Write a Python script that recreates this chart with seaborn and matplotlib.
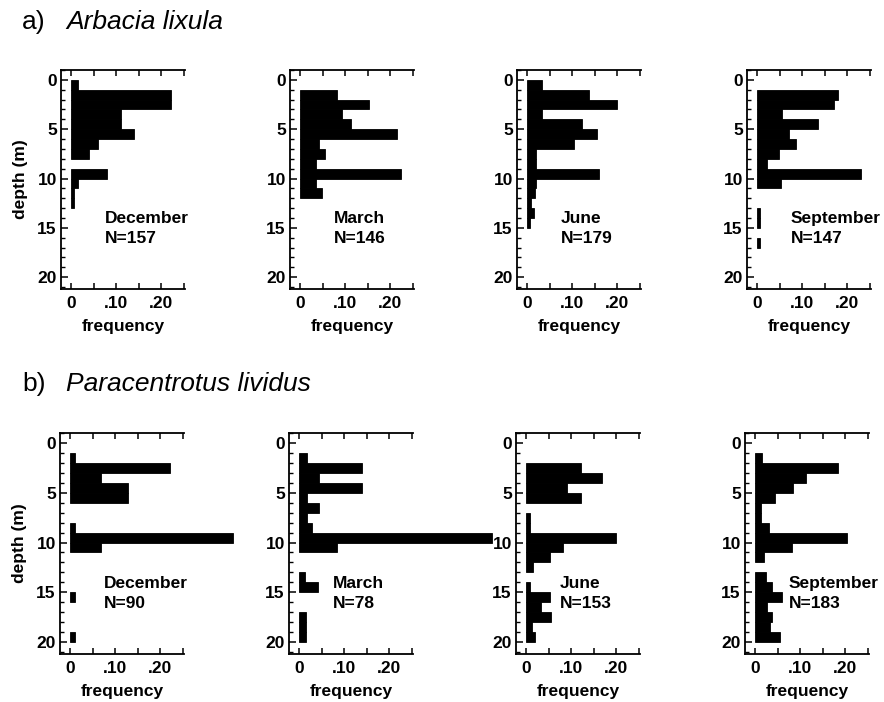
import numpy as np
import pandas as pd
import matplotlib
matplotlib.use("Agg")
import matplotlib.pyplot as plt
import matplotlib.transforms as mtransforms
from matplotlib.ticker import FixedLocator, MultipleLocator
import seaborn as sns

# 1 m depth classes: class k covers k..k+1 m
depth_class = np.arange(20)

months = ["December", "March", "June", "September"]

# a) Arbacia lixula - relative frequency per depth class
arbacia_n = [157, 146, 179, 147]
arbacia_dec = [0.016, 0.22, 0.22, 0.11, 0.11, 0.14, 0.06, 0.04, 0, 0.08,
               0.015, 0.007, 0.007, 0, 0, 0, 0, 0, 0, 0]
arbacia_mar = [0, 0.082, 0.153, 0.092, 0.112, 0.214, 0.041, 0.056, 0.036, 0.224,
               0.036, 0.048, 0, 0, 0, 0, 0, 0, 0, 0]
arbacia_jun = [0.033, 0.138, 0.20, 0.033, 0.122, 0.155, 0.104, 0.021, 0.021, 0.16,
               0.021, 0.017, 0.009, 0.015, 0.007, 0, 0, 0, 0, 0]
arbacia_sep = [0, 0.18, 0.17, 0.055, 0.135, 0.07, 0.086, 0.048, 0.023, 0.23,
               0.053, 0, 0, 0.007, 0.007, 0, 0.007, 0, 0, 0]

# b) Paracentrotus lividus - relative frequency per depth class
paracentrotus_n = [90, 78, 153, 183]
paracentrotus_dec = [0, 0.011, 0.221, 0.069, 0.128, 0.128, 0, 0, 0.011, 0.361,
                     0.068, 0, 0, 0, 0, 0.011, 0, 0, 0, 0.011]
paracentrotus_mar = [0, 0.017, 0.139, 0.044, 0.139, 0.017, 0.044, 0.017, 0.028, 0.427,
                     0.084, 0, 0, 0.013, 0.041, 0, 0, 0.015, 0.015, 0.015]
paracentrotus_jun = [0, 0, 0.121, 0.168, 0.09, 0.121, 0, 0.01, 0.01, 0.2,
                     0.081, 0.053, 0.015, 0, 0.009, 0.053, 0.033, 0.056, 0.014, 0.021]
paracentrotus_sep = [0, 0.015, 0.184, 0.113, 0.084, 0.044, 0.013, 0.013, 0.031, 0.204,
                     0.081, 0.019, 0, 0.024, 0.037, 0.059, 0.026, 0.037, 0.033, 0.056]

x_ticks = [0, 0.05, 0.10, 0.15, 0.20, 0.25]
x_tick_labels = ["0", "", ".10", "", ".20", ""]
y_ticks = [0, 5, 10, 15, 20]

rows = [
    ("a)", "Arbacia lixula", arbacia_n,
     [arbacia_dec, arbacia_mar, arbacia_jun, arbacia_sep]),
    ("b)", "Paracentrotus lividus", paracentrotus_n,
     [paracentrotus_dec, paracentrotus_mar, paracentrotus_jun, paracentrotus_sep]),
]

sns.set_theme(style="ticks")
plt.rcParams["font.family"] = ["Liberation Sans", "DejaVu Sans"]
plt.rcParams["font.weight"] = "bold"
plt.rcParams["text.color"] = "black"
plt.rcParams["axes.labelcolor"] = "black"
plt.rcParams["xtick.color"] = "black"
plt.rcParams["ytick.color"] = "black"

W, H = 884, 702
fig = plt.figure(figsize=(W / 100, H / 100), dpi=100)

# axes frames in pixels: (lefts, top, bottom)
row_frames = [
    ([61, 290, 517, 747], 70, 289),
    ([60, 289, 516, 745], 433, 654),
]
title_y = [22, 384]
panel_w = 124
fs = 12.5

for r, (tag, species, counts, series) in enumerate(rows):
    lefts, top, bottom = row_frames[r]
    fig.text(22 / W, 1 - title_y[r] / H, tag, fontsize=19, fontweight="normal",
             va="center", ha="left", color="black")
    fig.text(66 / W, 1 - title_y[r] / H, species, fontsize=19, fontweight="normal",
             fontstyle="italic", va="center", ha="left", color="black")
    for c in range(4):
        ax = fig.add_axes([lefts[c] / W, 1 - bottom / H, panel_w / W, (bottom - top) / H])
        df = pd.DataFrame({"depth": depth_class + 0.5, "freq": series[c]})
        df = df[df["freq"] > 0]
        sns.histplot(data=df, y="depth", weights="freq", binwidth=1, binrange=(0, 20),
                     ax=ax, color="black", alpha=1, edgecolor="black", linewidth=0.6)
        # drop empty depth classes so they leave no outline at zero
        for p in list(ax.patches):
            if p.get_width() <= 0:
                p.remove()
            else:
                p.set_clip_on(False)
        ax.set_xlim(-0.022, 0.252)
        ax.set_ylim(21.2, -1.0)
        ax.xaxis.set_major_locator(FixedLocator(x_ticks))
        ax.set_xticklabels(x_tick_labels)
        ax.yaxis.set_major_locator(FixedLocator(y_ticks))
        ax.yaxis.set_minor_locator(MultipleLocator(1))
        ax.tick_params(axis="x", which="both", direction="in", top=True, bottom=True,
                       length=4, width=1.1, pad=5, labelsize=fs, colors="black")
        ax.tick_params(axis="y", which="major", direction="in", left=True, right=False,
                       length=5, width=1.1, pad=3, labelsize=fs, colors="black")
        ax.tick_params(axis="y", which="minor", direction="in", left=True, right=False,
                       length=3, width=1.0, colors="black")
        for lab in ax.get_xticklabels() + ax.get_yticklabels():
            lab.set_fontweight("bold")
        for side in ["left", "top", "bottom"]:
            ax.spines[side].set_visible(True)
            ax.spines[side].set_linewidth(1.3)
            ax.spines[side].set_color("black")
        ax.spines["right"].set_visible(False)
        ax.set_xlabel("frequency", fontsize=fs, fontweight="bold", labelpad=6,
                      color="black")
        if c == 0:
            ax.set_ylabel("depth (m)", fontsize=fs, fontweight="bold", labelpad=7,
                          color="black")
        else:
            ax.set_ylabel("")
        trans = mtransforms.blended_transform_factory(ax.transAxes, ax.transData)
        ax.text(0.355, 14.1, months[c], transform=trans, fontsize=fs,
                fontweight="bold", va="center", ha="left", clip_on=False, color="black")
        ax.text(0.355, 16.1, f"N={counts[c]}", transform=trans, fontsize=fs,
                fontweight="bold", va="center", ha="left", clip_on=False, color="black")

fig.savefig("out.png", dpi=100, facecolor="white")
